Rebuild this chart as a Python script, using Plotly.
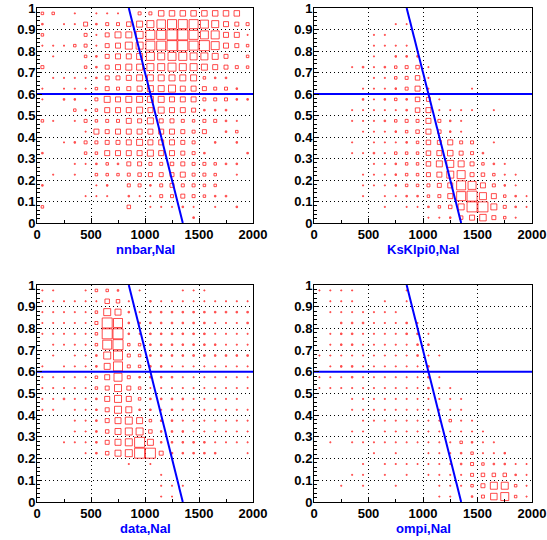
import plotly.graph_objects as go

# ---------------- data ----------------
X_CENTERS = [50, 150, 250, 350, 450, 550, 650, 750, 850, 950,
             1050, 1150, 1250, 1350, 1450, 1550, 1650, 1750, 1850, 1950]
# rows of the grids below run from the top bin (0.975) down to the bottom bin (0.025)
Y_CENTERS_TOP_DOWN = [0.975, 0.925, 0.875, 0.825, 0.775, 0.725, 0.675, 0.625, 0.575, 0.525,
                      0.475, 0.425, 0.375, 0.325, 0.275, 0.225, 0.175, 0.125, 0.075, 0.025]

X_TICKS = [0, 500, 1000, 1500, 2000]
X_TICK_TEXT = ["0", "500", "1000", "1500", "2000"]
Y_TICKS = [0, 0.1, 0.2, 0.3, 0.4, 0.5, 0.6, 0.7, 0.8, 0.9, 1.0]
Y_TICK_TEXT = ["0", "0.1", "0.2", "0.3", "0.4", "0.5", "0.6", "0.7", "0.8", "0.9", "1"]

CUT_LINE_X = [850, 1350]
CUT_LINE_Y = [1.0, 0.0]
H_CUT_X = [0, 2000]
H_CUT_Y = [0.6, 0.6]

TITLES = ["nnbar,NaI", "KsKlpi0,NaI", "data,NaI", "ompi,NaI"]

nnbar = [
    [2.5, 2.5, 0, 1.5, 0, 1.5, 1.5, 1.5, 0, 3, 3, 5.5, 5.5, 5.5, 5.5, 5.5, 5.5, 5.5, 5.5, 0],
    [2, 0, 1.5, 1.5, 4, 2, 3, 3, 4.5, 6, 7, 8.5, 9, 9, 9, 8, 7, 5, 4, 3],
    [2.5, 0, 0, 0, 3, 1.5, 4, 6, 6, 7, 9, 9, 10, 10, 9, 8, 8, 5, 5, 1.5],
    [1.5, 1.5, 1.5, 2.5, 3, 1.5, 4, 5, 7, 7, 9, 9, 10, 10, 9, 10, 8, 5, 4, 2.5],
    [0, 1.5, 0, 0, 2.5, 2, 4, 5, 5, 6, 8, 7, 8, 8, 7, 7, 6, 4, 0, 2.5],
    [3, 0, 0, 0, 2.5, 2, 4, 5, 6, 6, 7, 7, 8, 7, 7, 6, 5, 4, 3, 2.5],
    [0, 1.5, 1.5, 1.5, 1.5, 2, 4, 4, 5, 6, 6, 6, 6, 6, 6, 2.5, 2, 2, 0, 0],
    [1.5, 0, 1.5, 1.5, 1.5, 2.5, 4, 3, 4, 5, 6, 6, 7, 5, 5, 4, 3, 3, 2, 0],
    [1.5, 0, 2, 2, 0, 3, 6, 5, 6, 6, 6, 6, 5, 5, 5, 3, 3, 3, 2, 2],
    [0, 0, 0, 2.5, 2, 2.5, 5, 5, 5, 6, 5, 6, 5, 5, 4, 2, 2, 2, 0, 0],
    [2.5, 1.5, 0, 1.5, 3, 2.5, 3, 3, 5, 4, 6, 4, 4, 3, 2.5, 3, 3, 2, 1.5, 0],
    [0, 0, 0, 0, 1.5, 5, 4, 5, 5, 5, 5, 5, 5, 4, 3, 4, 0, 2, 2.5, 0],
    [0, 0, 1.5, 2, 3, 3, 4, 4, 5, 6, 5, 5, 5, 4, 3, 0, 2, 0, 2, 0],
    [2, 0, 0, 0, 2.5, 2.5, 5, 5, 5, 5, 6, 5, 5, 4, 3, 2, 0, 0, 0, 2],
    [0, 0, 0, 1.5, 1.5, 2, 2.5, 2, 4, 4, 3, 3, 3.5, 4, 3, 3, 2.5, 2, 2, 0],
    [0, 1.5, 0, 1.5, 0, 2.5, 2.5, 2.5, 3, 3.5, 4, 4, 4, 5, 3, 3, 2.5, 0, 1.5, 0],
    [2, 0, 0, 0, 0, 1.5, 2, 0, 3, 3, 2, 3, 4, 3, 3, 2.5, 2.5, 0, 0, 0],
    [0, 0, 0, 0, 1.5, 1.5, 1.5, 0, 2, 1.5, 1.5, 3, 3, 4, 3, 2.5, 2, 2, 0, 0],
    [2.5, 0, 0, 0, 0, 0, 0, 0, 3.5, 0, 1.5, 1.5, 1.5, 2, 1.5, 0, 1.5, 0, 2, 0],
    [0, 0, 0, 0, 0, 0, 0, 0, 0, 0, 0, 0, 0, 0, 2, 0, 0, 0, 0, 0],
]

ksklpi0 = [
    [0, 0, 0, 0, 0, 0, 0, 0, 0, 0, 0, 0, 0, 0, 0, 0, 0, 0, 0, 0],
    [0, 0, 0, 0, 0, 0, 0, 1.5, 1.5, 0, 0, 0, 0, 0, 0, 0, 0, 0, 0, 0],
    [0, 0, 0, 0, 0, 1.5, 1.5, 0, 0, 0, 0, 0, 0, 0, 0, 0, 0, 0, 0, 0],
    [0, 0, 0, 0, 0, 1.5, 1.5, 1.5, 1.5, 0, 0, 0, 0, 0, 0, 0, 0, 0, 0, 0],
    [0, 0, 0, 0, 0, 1.5, 0, 2, 2, 2, 0, 0, 0, 0, 0, 0, 0, 0, 0, 0],
    [0, 0, 0, 1.5, 2, 1.5, 2, 2.5, 3, 3.5, 1.5, 0, 0, 0, 0, 0, 0, 0, 0, 0],
    [0, 0, 0, 0, 0, 1.5, 1.5, 2.5, 3, 4.5, 1.5, 0, 0, 0, 0, 0, 0, 0, 0, 0],
    [0, 0, 0, 0, 1.5, 1.5, 1.5, 2, 3, 5, 1.5, 0, 0, 0, 1.5, 0, 0, 0, 0, 0],
    [0, 0, 0, 0, 2, 1.5, 2, 2.5, 2, 4.5, 4, 1.5, 0, 0, 0, 0, 0, 0, 0, 0],
    [0, 0, 0, 1.5, 1.5, 1.5, 1.5, 1.5, 2, 4.5, 5, 1.5, 1.5, 1.5, 1.5, 0, 1.5, 0, 0, 0],
    [0, 0, 0, 1.5, 1.5, 1.5, 2, 2.5, 3, 3, 5, 3, 2, 1.5, 0, 0, 0, 0, 0, 0],
    [0, 0, 0, 0, 1.5, 1.5, 1.5, 2, 2.5, 3.5, 5, 3.5, 2, 1.5, 0, 0, 0, 0, 0, 0],
    [0, 0, 0, 1.5, 0, 1.5, 1.5, 1.5, 2, 2.5, 4.5, 4, 5, 3, 3, 0, 1.5, 0, 0, 0],
    [0, 0, 0, 1.5, 1.5, 2, 1.5, 2.5, 2.5, 2.5, 4.5, 5, 5.5, 4, 3, 2, 0, 0, 0, 0],
    [0, 0, 0, 0, 0, 1.5, 1.5, 2, 2.5, 2.5, 4.5, 6, 7, 6, 4, 2.5, 2, 1.5, 0, 0],
    [0, 0, 0, 0, 1.5, 1.5, 1.5, 2, 2.5, 2.5, 4, 5, 7, 8, 4, 3.5, 2.5, 1.5, 1.5, 0],
    [0, 0, 0, 0, 1.5, 1.5, 1.5, 2, 2.5, 2.5, 3, 4, 5, 9, 8, 5, 3, 2, 1.5, 0],
    [0, 0, 0, 0, 1.5, 0, 1.5, 1.5, 2, 2, 2.5, 3, 5, 9, 10, 7, 5, 2.5, 2, 1.5],
    [0, 0, 0, 0, 0, 0, 1.5, 0, 1.5, 1.5, 2, 2.5, 3.5, 6, 10, 10, 6, 3, 2, 1.5],
    [0, 0, 0, 0, 0, 0, 0, 0, 0, 0, 1.5, 1.5, 2, 3.5, 5, 6.5, 4, 2.5, 1.5, 0],
]

data = [
    [1.5, 1.5, 0, 0, 1.5, 2.5, 2.5, 2, 0, 1.5, 0, 0, 0, 1.5, 1.5, 1.5, 0, 0, 0, 0],
    [1.5, 1.5, 1.5, 1.5, 1.5, 1.5, 4.5, 3.5, 1.5, 0, 2, 1.5, 1.5, 1.5, 1.5, 1.5, 1.5, 1.5, 1.5, 1.5],
    [1.5, 1.5, 1.5, 1.5, 1.5, 2.5, 7, 6, 2, 1.5, 2, 2, 2, 2, 2, 2, 2, 2, 2, 2],
    [1.5, 1.5, 1.5, 1.5, 1.5, 3, 10, 9, 2, 2, 2, 2, 2, 2, 2, 2, 1.5, 1.5, 1.5, 2],
    [1.5, 1.5, 1.5, 1.5, 1.5, 2.5, 10, 10, 2, 1.5, 2, 2, 2, 2, 2, 2, 1.5, 1.5, 1.5, 1.5],
    [0, 1.5, 1.5, 1.5, 1.5, 2.5, 9, 10, 2.5, 2.5, 2, 2, 2, 2, 2, 2, 2, 1.5, 1.5, 1.5],
    [0, 1.5, 0, 1.5, 1.5, 2, 7, 9, 3, 2.5, 2, 2, 2, 2, 2, 2, 2, 2, 2, 2],
    [1.5, 0, 1.5, 1.5, 1.5, 2, 6, 9, 3, 2.5, 2, 2, 1.5, 1.5, 1.5, 1.5, 1.5, 1.5, 1.5, 1.5],
    [1.5, 1.5, 1.5, 1.5, 1.5, 2.5, 5, 8, 3, 2, 2, 2, 2, 1.5, 1.5, 1.5, 1.5, 1.5, 1.5, 1.5],
    [1.5, 1.5, 1.5, 1.5, 1.5, 2.5, 4, 7, 4, 2.5, 1.5, 1.5, 1.5, 1.5, 1.5, 1.5, 1.5, 1.5, 1.5, 1.5],
    [1.5, 1.5, 2, 1.5, 1.5, 2, 5, 7, 5, 2.5, 2, 2, 2, 2, 1.5, 1.5, 1.5, 1.5, 1.5, 0],
    [1.5, 1.5, 0, 1.5, 1.5, 2, 4, 7, 6, 2, 2, 1.5, 2, 1.5, 1.5, 1.5, 1.5, 1.5, 1.5, 1.5],
    [0, 0, 0, 1.5, 1.5, 2, 4, 6, 7, 6, 2.5, 2, 2, 1.5, 1.5, 1.5, 1.5, 1.5, 1.5, 1.5],
    [0, 0, 0, 1.5, 1.5, 2, 3.5, 6, 7, 7, 3.5, 2, 2, 2, 1.5, 1.5, 1.5, 1.5, 1.5, 1.5],
    [0, 0, 1.5, 1.5, 1.5, 2, 4, 6, 7, 10, 6, 2, 2, 2, 2, 2, 1.5, 1.5, 1.5, 1.5],
    [0, 0, 0, 0, 1.5, 2, 3.5, 6, 7, 10, 10, 4, 2, 2, 2, 2, 2, 0, 0, 1.5],
    [0, 0, 0, 0, 0, 0, 0, 0, 1.5, 0, 1.5, 0, 0, 0, 0, 0, 0, 0, 0, 0],
    [0, 0, 0, 0, 0, 0, 0, 0, 0, 0, 0, 1.5, 0, 0, 0, 0, 0, 0, 0, 0],
    [0, 0, 0, 0, 0, 0, 0, 0, 0, 0, 0, 1.5, 1.5, 1.5, 0, 0, 0, 0, 0, 0],
    [0, 0, 0, 0, 0, 0, 0, 0, 0, 0, 0, 1.5, 1.5, 0, 0, 0, 0, 0, 0, 0],
]

ompi = [
    [1.5, 1.5, 1.5, 1.5, 0, 0, 0, 0, 1.5, 0, 0, 0, 0, 0, 0, 0, 0, 0, 0, 0],
    [0, 1.5, 1.5, 1.5, 0, 0, 1.5, 0, 1.5, 0, 0, 0, 0, 0, 0, 0, 0, 0, 0, 0],
    [0, 1.5, 1.5, 1.5, 1.5, 1.5, 1.5, 1.5, 0, 0, 0, 0, 0, 0, 0, 0, 0, 0, 0, 0],
    [0, 0, 2, 2, 2, 1.5, 1.5, 1.5, 2, 1.5, 0, 0, 0, 0, 0, 0, 0, 0, 0, 0],
    [0, 1.5, 2, 2, 1.5, 1.5, 1.5, 1.5, 2, 2, 1.5, 0, 0, 0, 0, 0, 0, 0, 0, 0],
    [0, 1.5, 2, 2, 1.5, 1.5, 1.5, 1.5, 1.5, 2, 2, 0, 0, 0, 0, 0, 0, 0, 0, 0],
    [1.5, 1.5, 1.5, 1.5, 1.5, 1.5, 1.5, 1.5, 1.5, 2, 1.5, 1.5, 0, 0, 0, 0, 0, 0, 0, 0],
    [0, 1.5, 2, 2, 1.5, 1.5, 1.5, 1.5, 1.5, 1.5, 2, 0, 0, 0, 0, 0, 0, 0, 0, 0],
    [1.5, 1.5, 1.5, 2, 1.5, 1.5, 1.5, 1.5, 1.5, 1.5, 2, 1.5, 0, 0, 0, 0, 0, 0, 0, 0],
    [1.5, 1.5, 1.5, 1.5, 1.5, 1.5, 1.5, 1.5, 1.5, 1.5, 2, 1.5, 1.5, 0, 0, 0, 0, 0, 0, 0],
    [0, 0, 0, 1.5, 1.5, 1.5, 1.5, 1.5, 1.5, 1.5, 1.5, 1.5, 1.5, 1.5, 0, 0, 0, 0, 0, 0],
    [0, 0, 0, 1.5, 1, 1.5, 1.5, 1.5, 1.5, 1.5, 1.5, 1.5, 1.5, 1, 0, 0, 0, 0, 0, 0],
    [0, 0, 0, 0, 1, 1.5, 1.5, 1.5, 1.5, 1.5, 1.5, 1.5, 2.5, 1.5, 1.5, 0, 0, 0, 0, 0],
    [0, 0, 0, 1.5, 1.5, 0, 1.5, 1.5, 1.5, 1.5, 1.5, 1.5, 1.5, 1.5, 1.5, 1.5, 0, 0, 0, 0],
    [0, 1.5, 0, 1.5, 1, 1.5, 1.5, 1.5, 1.5, 1.5, 1.5, 1.5, 1.5, 2.5, 2, 1.5, 1.5, 0, 0, 0],
    [0, 0, 0, 0, 0, 1.5, 0, 1.5, 0, 0, 1.5, 1.5, 1.5, 2, 2.5, 1.5, 1.5, 2, 0, 0],
    [0, 0, 0, 0, 1, 0, 1.5, 1.5, 1.5, 1.5, 1.5, 1.5, 1.5, 2, 3, 2.5, 2, 2, 1.5, 1.5],
    [0, 0, 0, 1, 1.5, 0, 1, 0, 1, 0, 1, 1.5, 1.5, 1.5, 3, 3.5, 3.5, 3.5, 2, 1.5],
    [0, 0, 1.5, 0, 1.5, 0, 0, 1.5, 0, 0, 0, 1.5, 1.5, 1.5, 2.5, 4, 7, 7, 2.5, 1.5],
    [0, 0, 0, 0, 0, 0, 0, 0, 0, 0, 0, 1.5, 1.5, 0, 2, 3, 6.5, 8, 2.5, 1.5],
]

# ---------------- layout / styling ----------------
W, H = 547, 540
RED = "#ff0000"
BLUE = "#0000ff"
SIZE_SCALE = 1.0

# panel frames in window pixels: (left, right, top, bottom)
frames = [(37, 253, 8, 223), (314, 532, 8, 223), (37, 253, 285, 502), (314, 532, 285, 502)]

fig = go.Figure()
tick_font = dict(family="Liberation Sans, Arial, sans-serif", size=13, color="black", weight="bold")
title_font = dict(family="Liberation Sans, Arial, sans-serif", size=13, color=BLUE, weight="bold")

layout = dict(width=W, height=H, margin=dict(l=0, r=0, t=0, b=0, autoexpand=False),
              paper_bgcolor="white", plot_bgcolor="white", showlegend=False)
annotations = []

for k, grid in enumerate([nnbar, ksklpi0, data, ompi]):
    n = "" if k == 0 else str(k + 1)
    xs, ys, ss, syms = [], [], [], []
    for r, row in enumerate(grid):
        for c, v in enumerate(row):
            if v > 0:
                xs.append(X_CENTERS[c])
                ys.append(Y_CENTERS_TOP_DOWN[r])
                small = v <= 2
                ss.append(max(v * SIZE_SCALE - (0.5 if small else 0), 1.0))
                syms.append("square" if small else "square-open")
    fig.add_trace(go.Scatter(
        x=xs, y=ys, mode="markers", xaxis="x" + n, yaxis="y" + n, hoverinfo="skip",
        marker=dict(symbol=syms, size=ss, color=RED, line=dict(width=1, color=RED))))
    fig.add_trace(go.Scatter(x=CUT_LINE_X, y=CUT_LINE_Y, mode="lines", xaxis="x" + n, yaxis="y" + n,
                             line=dict(color=BLUE, width=2), hoverinfo="skip"))
    fig.add_trace(go.Scatter(x=H_CUT_X, y=H_CUT_Y, mode="lines", xaxis="x" + n, yaxis="y" + n,
                             line=dict(color=BLUE, width=2), hoverinfo="skip"))

    l, r_, t, b = frames[k]
    layout["xaxis" + n] = dict(
        domain=[l / W, r_ / W], anchor="y" + n, range=[0, 2000], automargin=False,
        tickmode="array", tickvals=X_TICKS, ticktext=X_TICK_TEXT,
        ticks="inside", ticklen=5, tickcolor="black", tickfont=tick_font,
        ticklabelstandoff=-1, ticklabeloverflow="allow",
        showline=True, linecolor="black", linewidth=1, mirror=True,
        showgrid=True, gridcolor="black", gridwidth=1, griddash="1px,3px",
        zeroline=False, fixedrange=True,
        minor=dict(ticks="inside", ticklen=3, dtick=250, tick0=0, tickcolor="black", showgrid=False))
    layout["yaxis" + n] = dict(
        domain=[1 - b / H, 1 - t / H], anchor="x" + n, range=[0, 1], automargin=False,
        tickmode="array", tickvals=Y_TICKS, ticktext=Y_TICK_TEXT,
        ticks="inside", ticklen=5, tickcolor="black", tickfont=tick_font,
        ticklabelstandoff=-2, ticklabeloverflow="allow",
        showline=True, linecolor="black", linewidth=1, mirror=True,
        showgrid=True, gridcolor="black", gridwidth=1, griddash="1px,3px",
        zeroline=False, fixedrange=True,
        minor=dict(ticks="inside", ticklen=2.5, dtick=0.02, tick0=0, tickcolor="black", showgrid=False))
    annotations.append(dict(text=TITLES[k], xref="x" + n + " domain", yref="y" + n + " domain",
                            x=0.5, y=-26 / (b - t), xanchor="center", yanchor="middle",
                            showarrow=False, font=title_font))

layout["annotations"] = annotations
fig.update_layout(**layout)
fig.write_html("out.html", config={"displayModeBar": False, "staticPlot": True},
               post_script="document.body.style.margin='0px'; document.body.style.overflow='hidden';")
